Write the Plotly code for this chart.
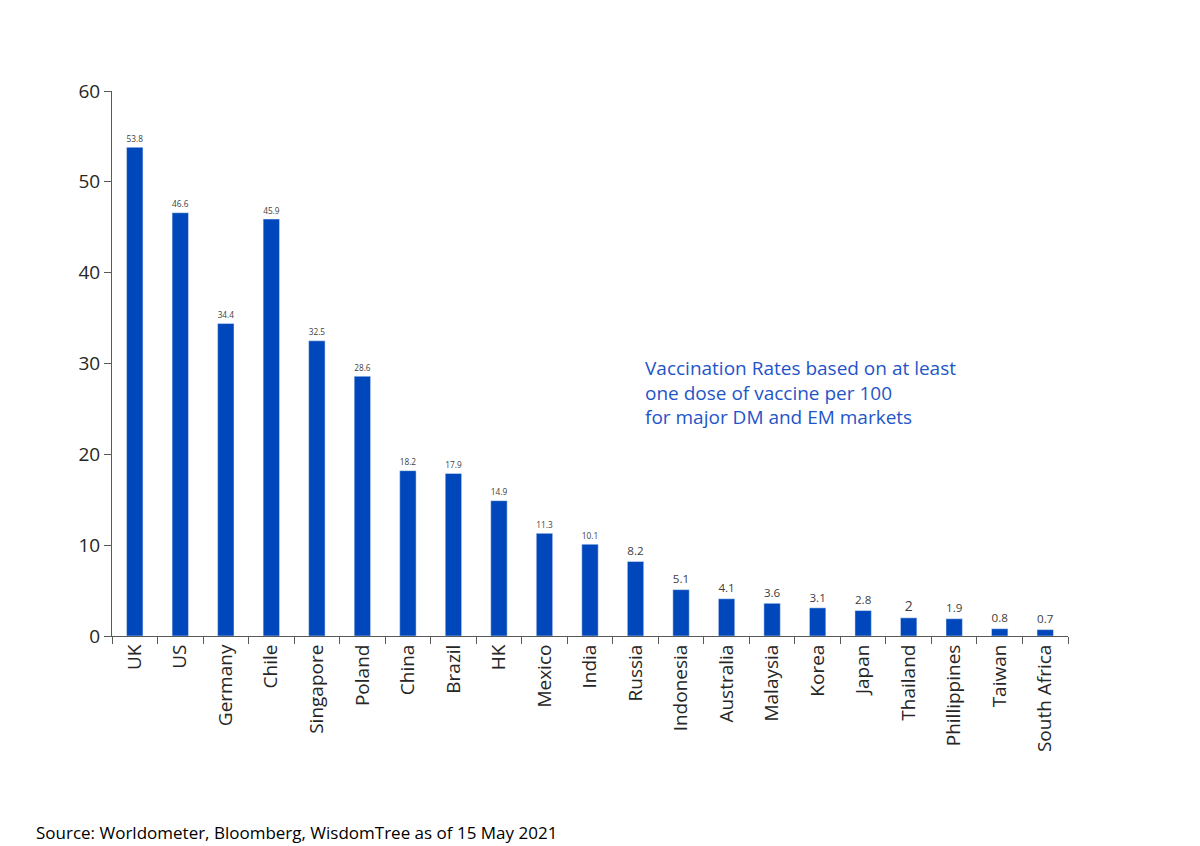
import plotly.graph_objects as go

countries = ["UK","US","Germany","Chile","Singapore","Poland","China","Brazil","HK","Mexico",
             "India","Russia","Indonesia","Australia","Malaysia","Korea","Japan","Thailand",
             "Phillippines","Taiwan","South Africa"]
rates = [53.8,46.6,34.4,45.9,32.5,28.6,18.2,17.9,14.9,11.3,10.1,8.2,5.1,4.1,3.6,3.1,2.8,2,1.9,0.8,0.7]
labels = [str(v) for v in rates]
yticks = [0,10,20,30,40,50,60]

fig = go.Figure(go.Bar(
    x=countries, y=rates, text=labels, textposition="outside",
    textfont=dict(size=14, color="#404040"), marker_color="#0047BB", width=0.36,
    cliponaxis=False))

fig.update_layout(
    width=1200, height=846, paper_bgcolor="white", plot_bgcolor="white",
    margin=dict(l=104, r=140, t=83, b=218),
    font=dict(family="Open Sans, Liberation Sans, sans-serif", color="#404040"),
    showlegend=False,
    xaxis=dict(showline=True, linecolor="#595959", ticks="outside", tickson="boundaries",
               ticklen=7, tickcolor="#595959", tickangle=-90, tickfont=dict(size=19, color="#262626")),
    yaxis=dict(range=[0,60], tickvals=yticks, showline=True, linecolor="#595959", ticks="outside",
               ticklen=7, tickcolor="#595959", showgrid=False, zeroline=False,
               tickfont=dict(size=19, color="#262626")),
    annotations=[
        dict(text="Vaccination Rates based on at least<br>one dose of vaccine per 100<br>for major DM and EM markets",
             xref="paper", yref="paper", x=0.555, y=0.52, xanchor="left", yanchor="top", align="left",
             showarrow=False, font=dict(size=19, color="#1F55C8", family="Open Sans, sans-serif")),
        dict(text="Source: Worldometer, Bloomberg, WisdomTree as of 15 May 2021",
             xref="paper", yref="paper", x=-0.082, y=-0.36, xanchor="left", yanchor="middle",
             showarrow=False, font=dict(size=17, color="#000000")),
    ])

fig.write_html("out.html")
